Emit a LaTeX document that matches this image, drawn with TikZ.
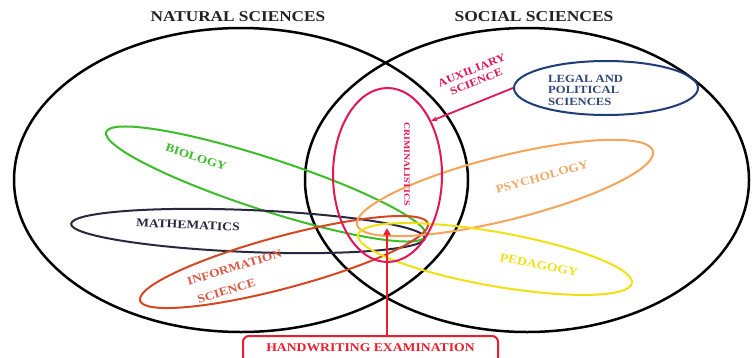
\documentclass[tikz,border=0pt]{standalone}
\usepackage{fontspec}
\setmainfont{Liberation Serif}[FakeStretch=1.15]
\usetikzlibrary{shapes.geometric,arrows.meta}
\definecolor{crimc}{RGB}{228,22,88}
\definecolor{navyc}{RGB}{30,60,120}
\definecolor{navyt}{RGB}{50,70,120}
\definecolor{bioc}{RGB}{60,190,40}
\definecolor{mathc}{RGB}{40,40,65}
\definecolor{infoc}{RGB}{215,70,35}
\definecolor{infot}{RGB}{215,90,70}
\definecolor{psyc}{RGB}{245,165,90}
\definecolor{psyt}{RGB}{240,170,105}
\definecolor{pedc}{RGB}{240,225,20}
\definecolor{hwc}{RGB}{235,30,45}
\definecolor{titlec}{RGB}{35,35,35}
\newcommand{\fs}[1]{\fontsize{#1}{#1}\selectfont\bfseries}
\begin{document}
\begin{tikzpicture}[x=1pt,y=-1pt,
  bigset/.style={draw=black, ellipse, line width=2.5pt, inner sep=0pt},
  subset/.style={draw=#1, ellipse, line width=2pt, inner sep=0pt},
  lbl/.style={text=#1, inner sep=0pt},
  hwbox/.style={draw=hwc, line width=2pt, rounded corners=6pt, text=hwc},
  hwarrow/.style={draw=hwc, line width=2pt, -{Triangle[length=7pt,width=7pt]}},
  auxarrow/.style={draw=crimc, line width=1.8pt, -{Stealth[length=6pt,width=5pt]}}]
\useasboundingbox (0,0) rectangle (752,357);
\fill[white] (0,0) rectangle (752,357);
% main sets
\node[bigset, minimum width=454pt, minimum height=304pt] (nat) at (241,180) {};
\node[bigset, minimum width=444pt, minimum height=304pt] (soc) at (527,180) {};
\node[lbl=titlec, font=\fs{15}] (natt) at (238,17) {NATURAL SCIENCES};
\node[lbl=titlec, font=\fs{15.2}] (soct) at (534,17) {SOCIAL SCIENCES};
% subsets
\node[subset=bioc, minimum width=336pt, minimum height=52pt, rotate=-18] (bio) at (266,184) {};
\node[subset=mathc, minimum width=354pt, minimum height=42pt, rotate=-2.3] (math) at (248,231) {};
\node[subset=infoc, minimum width=298pt, minimum height=52pt, rotate=15] (info) at (284,262) {};
\node[subset=psyc, minimum width=305pt, minimum height=64pt, rotate=14] (psy) at (505,188) {};
\node[subset=pedc, minimum width=278pt, minimum height=54pt, rotate=-10] (ped) at (495,259) {};
\node[subset=crimc, minimum width=109pt, minimum height=174pt] (crim) at (387.5,175) {};
\node[subset=navyc, minimum width=184pt, minimum height=54pt] (legal) at (606,88) {};
% labels
\node[lbl=bioc, font=\fs{11.5}, rotate=-18] (biot) at (196,157) {BIOLOGY};
\node[lbl=mathc, font=\fs{11.8}, rotate=-2.5] (matht) at (188,225) {MATHEMATICS};
\node[lbl=infot, font=\fs{11.6}, rotate=17] (infot1) at (234.5,267.5) {INFORMATION};
\node[lbl=infot, font=\fs{11.8}, rotate=17.5] (infot2) at (226.5,291) {SCIENCE};
\node[lbl=psyt, font=\fs{11.7}, rotate=16] (psyt) at (542,177) {PSYCHOLOGY};
\node[lbl=pedc, font=\fs{11.9}, rotate=-11] (pedt) at (539,265) {PEDAGOGY};
\node[lbl=crimc, font=\fs{8.5}, rotate=-90] (crimt) at (407,164) {CRIMINALISTICS};
\node[lbl=crimc, font=\fs{10.9}, rotate=22, align=center] (auxt) at (474,76) {AUXILIARY\\[1.5pt]SCIENCE};
\node[lbl=navyt, font={\fontsize{11}{11.5}\selectfont\bfseries}, align=left, anchor=west] (legalt) at (548,90) {LEGAL AND\\POLITICAL\\SCIENCES};
% connectors
\draw[auxarrow] (legal.west) -- (crim.51);
\node[hwbox, anchor=north, minimum width=255pt, text height=10pt, text depth=30pt, inner ysep=5pt, font=\fs{11.9}] (hw) at (370.5,335) {HANDWRITING EXAMINATION};
\coordinate (hwtip) at (387,228);
\draw[hwarrow] (hw.north -| hwtip) -- (hwtip);
\end{tikzpicture}
\end{document}
